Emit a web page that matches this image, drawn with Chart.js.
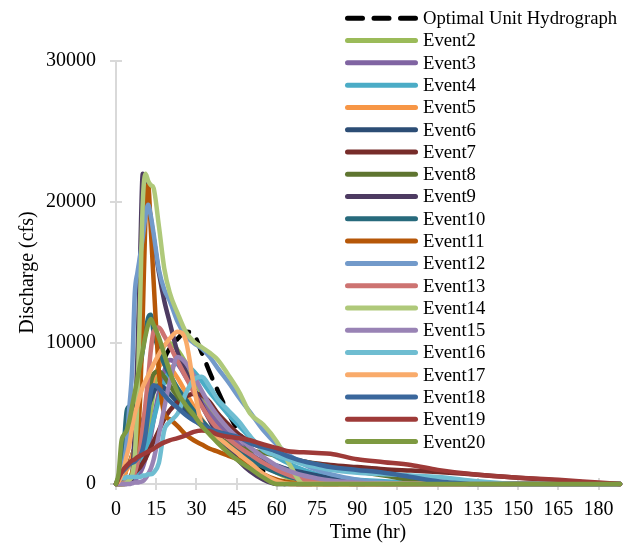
<!DOCTYPE html>
<html>
<head>
<meta charset="utf-8">
<script src="https://cdn.jsdelivr.net/npm/chart.js@4.4.1/dist/chart.umd.min.js"></script>
<style>
  html, body { margin: 0; padding: 0; background: #fff; }
  #wrap { width: 630px; height: 546px; }
</style>
</head>
<body>
<div id="wrap"><canvas id="chart" width="630" height="546"></canvas></div>
<script>
// time grid (hr) shared by every series
const hours = [0, 1, 2, 3, 4, 5, 6, 7, 8, 9, 10, 11, 12, 13, 14,
  16, 18, 20, 23, 26, 29, 32, 35, 38,
  42, 46, 50, 55, 60, 65, 70, 75, 80,
  90, 100, 110, 120, 135, 150, 165, 180, 188];

const xTicks = [0, 15, 30, 45, 60, 75, 90, 105, 120, 135, 150, 165, 180];
const yTicks = [0, 10000, 20000, 30000];

const seriesNames = ["Optimal Unit Hydrograph", "Event2", "Event3", "Event4", "Event5",
  "Event6", "Event7", "Event8", "Event9", "Event10", "Event11", "Event12", "Event13",
  "Event14", "Event15", "Event16", "Event17", "Event18", "Event19", "Event20"];

// discharge (cfs) at each entry of hours
const optimal = [0, 100, 300, 600, 1000, 1500, 2000, 2600, 3200, 3900, 4600, 5200, 5800, 6400, 7000,
  8000, 8900, 9600, 10300, 10800, 10600, 9300, 7900, 6600,
  5000, 3600, 2300, 900, 100, 0, 0, 0, 0,
  0, 0, 0, 0, 0, 0, 0, 0, 0];
const event2 = [0, 0, 0, 50, 100, 200, 300, 500, 800, 1300, 2000, 2800, 4000, 5200, 6500,
  8500, 9800, 10000, 9500, 8600, 7500, 6400, 5400, 4500,
  3600, 2800, 2100, 1400, 800, 400, 100, 0, 0,
  0, 0, 0, 0, 0, 0, 0, 0, 0];
const event3 = [0, 0, 0, 0, 50, 100, 100, 200, 500, 800, 1200, 1800, 2500, 3400, 4500,
  6500, 8000, 8800, 8500, 7600, 6700, 5800, 5000, 4300,
  3500, 2800, 2200, 1500, 900, 500, 250, 100, 50,
  0, 0, 0, 0, 0, 0, 0, 0, 0];
const event4 = [0, 0, 0, 100, 200, 300, 400, 600, 900, 1300, 1800, 2400, 3000, 3700, 4500,
  6000, 7200, 8000, 8600, 8500, 8000, 7300, 6500, 5800,
  4900, 4100, 3300, 2500, 1900, 1400, 1000, 700, 500,
  300, 200, 100, 0, 0, 0, 0, 0, 0];
const event5 = [0, 100, 300, 600, 1000, 1400, 2000, 2600, 3200, 3800, 4500, 5200, 6000, 6800, 7500,
  8300, 8600, 8300, 7500, 6500, 5500, 4600, 3800, 3100,
  2400, 1800, 1200, 600, 200, 0, 0, 0, 0,
  0, 0, 0, 0, 0, 0, 0, 0, 0];
const event6 = [0, 300, 1000, 2500, 3000, 3300, 3500, 3700, 4000, 4200, 4500, 5000, 5500, 6000, 6500,
  7000, 6800, 6400, 5800, 5200, 4600, 4100, 3600, 3200,
  2800, 2400, 2000, 1600, 1300, 1000, 800, 600, 400,
  200, 0, 0, 0, 0, 0, 0, 0, 0];
const event7 = [0, 50, 100, 200, 300, 400, 600, 800, 1000, 1200, 1500, 1800, 2200, 2600, 3000,
  3800, 4600, 5200, 5800, 6200, 6400, 6300, 5800, 5000,
  4200, 3500, 3000, 2500, 2100, 1800, 1600, 1450, 1350,
  1200, 1050, 950, 850, 650, 450, 250, 50, 0];
const event8 = [0, 0, 50, 100, 200, 300, 500, 900, 1500, 2400, 3500, 4700, 6000, 7200, 7800,
  8000, 7600, 7000, 6200, 5500, 4800, 4200, 3700, 3300,
  2900, 2600, 2400, 2200, 2000, 1800, 1600, 1400, 1200,
  900, 600, 300, 100, 0, 0, 0, 0, 0];
const event9 = [0, 0, 0, 0, 0, 100, 500, 4000, 9000, 16000, 22000, 21500, 20000, 18800, 17500,
  15000, 13000, 11500, 9300, 8000, 6800, 5600, 4500, 3500,
  2500, 1600, 900, 300, 0, 0, 0, 0, 0,
  0, 0, 0, 0, 0, 0, 0, 0, 0];
const event10 = [0, 300, 1500, 3000, 5200, 5500, 5700, 6200, 7000, 8200, 9500, 10800, 11800, 12000, 10800,
  9500, 8500, 7800, 6800, 6000, 5200, 4500, 3900, 3300,
  2700, 2200, 1700, 1200, 800, 500, 300, 200, 100,
  0, 0, 0, 0, 0, 0, 0, 0, 0];
const event11 = [0, 0, 0, 0, 200, 400, 800, 1500, 3000, 6000, 12000, 19000, 21200, 18000, 14500,
  8000, 5000, 4600, 4100, 3500, 3100, 2800, 2500, 2300,
  2000, 1700, 1300, 700, 300, 100, 0, 0, 0,
  0, 0, 0, 0, 0, 0, 0, 0, 0];
const event12 = [0, 200, 500, 1500, 3000, 5500, 8000, 13500, 15000, 16200, 17500, 19000, 19800, 19000, 17800,
  15200, 13800, 13000, 11500, 10500, 10000, 9600, 9000, 8200,
  7200, 6100, 5100, 3800, 2800, 2000, 1400, 1000, 700,
  300, 100, 0, 0, 0, 0, 0, 0, 0];
const event13 = [0, 0, 0, 100, 200, 300, 500, 800, 1500, 2500, 4000, 5700, 7500, 9500, 10800,
  11100, 10500, 9800, 8700, 7600, 6500, 5500, 4600, 3900,
  3200, 2600, 2100, 1500, 1000, 600, 300, 200, 100,
  0, 0, 0, 0, 0, 0, 0, 0, 0];
const event14 = [0, 0, 0, 0, 100, 300, 600, 2000, 6000, 13000, 20000, 22000, 21500, 21200, 21000,
  18300, 15300, 13600, 12100, 10800, 10100, 9700, 9300, 8800,
  7700, 6500, 5000, 4200, 3000, 1300, 0, 0, 0,
  0, 0, 0, 0, 0, 0, 0, 0, 0];
const event15 = [0, 0, 0, 0, 0, 0, 50, 100, 100, 150, 200, 400, 700, 1100, 1700,
  3500, 5400, 7200, 9000, 8600, 7700, 6600, 5600, 4800,
  3900, 3200, 2600, 1900, 1300, 900, 600, 400, 250,
  100, 0, 0, 0, 0, 0, 0, 0, 0];
const event16 = [0, 300, 400, 400, 500, 500, 500, 500, 500, 500, 600, 600, 700, 700, 800,
  1500, 3800, 4400, 5000, 6400, 7400, 7600, 6900, 6000,
  5200, 4400, 3400, 2400, 2000, 1700, 1400, 1200, 1000,
  800, 700, 600, 500, 200, 0, 0, 0, 0];
const event17 = [0, 200, 600, 1200, 2000, 2800, 4000, 5000, 5600, 6300, 6900, 7300, 7700, 8100, 8500,
  9200, 9800, 10300, 10800, 10200, 7000, 4200, 3700, 3300,
  2700, 2100, 1500, 700, 200, 0, 0, 0, 0,
  0, 0, 0, 0, 0, 0, 0, 0, 0];
const event18 = [0, 500, 800, 1000, 1200, 1400, 1500, 1600, 1800, 2000, 2500, 3500, 5000, 6500, 7000,
  6800, 6300, 5900, 5400, 4900, 4500, 4200, 3900, 3700,
  3500, 3300, 2900, 2600, 2300, 1900, 1600, 1400, 1200,
  1000, 800, 500, 200, 0, 0, 0, 0, 0];
const event19 = [0, 400, 800, 1100, 1300, 1500, 1650, 1750, 1900, 2000, 2100, 2200, 2300, 2400, 2500,
  2750, 2950, 3100, 3250, 3450, 3700, 3800, 3750, 3500,
  3350, 3250, 3100, 2800, 2550, 2300, 2250, 2200, 2150,
  1750, 1550, 1350, 1000, 650, 450, 300, 100, 0];
const event20 = [0, 800, 3000, 3500, 3800, 4500, 5500, 6500, 7500, 8500, 9500, 10500, 11300, 11700, 11300,
  10400, 9200, 8000, 6500, 5600, 4900, 4100, 3500, 2900,
  2200, 1600, 1100, 450, 0, 0, 0, 0, 0,
  0, 0, 0, 0, 0, 0, 0, 0, 0];

const seriesValues = [optimal, event2, event3, event4, event5, event6, event7, event8, event9,
  event10, event11, event12, event13, event14, event15, event16, event17, event18, event19, event20];

const seriesColors = ["#000000", "#9BBB59", "#8064A2", "#4BACC6", "#F79646", "#2C4D75",
  "#772C2A", "#5F7530", "#4D3B62", "#276A7C", "#B65708", "#729ACA", "#CD7371", "#AFC97A",
  "#9983B5", "#6FBDD1", "#F9AB6B", "#3A679C", "#9E3A38", "#7E9A41"];

const serif = "'Liberation Serif', 'Times New Roman', serif";
const axisGrey = "#d9d9d9";
const dash = [15, 11.5];

Chart.defaults.font.family = serif;
Chart.defaults.font.size = 20;
Chart.defaults.color = "#000";

const datasets = seriesNames.map((name, i) => ({
  label: name,
  data: seriesValues[i].map((v, k) => ({ x: hours[k], y: v })),
  borderColor: seriesColors[i],
  borderWidth: 4.5,
  borderDash: i === 0 ? dash : [],
  borderCapStyle: "round",
  borderJoinStyle: "round",
  cubicInterpolationMode: "monotone",
  pointRadius: 0,
  fill: false,
  clip: false,
  // later events sit on top, like the spreadsheet
  order: seriesNames.length - i
}));

// Excel-style cross tick marks on both axes
const crossTicks = {
  id: "crossTicks",
  beforeDatasetsDraw(chart) {
    const { ctx, scales } = chart;
    ctx.save();
    ctx.strokeStyle = axisGrey;
    ctx.lineWidth = 2;
    scales.x.ticks.forEach(t => {
      const px = Math.round(scales.x.getPixelForValue(t.value));
      const py = scales.y.bottom;
      ctx.beginPath();
      ctx.moveTo(px, py - 6);
      ctx.lineTo(px, py + 6);
      ctx.stroke();
    });
    scales.y.ticks.forEach(t => {
      const py = Math.round(scales.y.getPixelForValue(t.value));
      const px = scales.x.left;
      ctx.beginPath();
      ctx.moveTo(px - 6, py);
      ctx.lineTo(px + 6, py);
      ctx.stroke();
    });
    ctx.restore();
  }
};

// legend overlapping the top right of the plot
const legendBox = {
  id: "legendBox",
  afterDraw(chart) {
    const ctx = chart.ctx;
    ctx.save();
    ctx.font = "18.7px " + serif;
    ctx.textBaseline = "middle";
    chart.data.datasets.forEach((ds, i) => {
      const y = 18.3 + i * 22.28;
      ctx.strokeStyle = ds.borderColor;
      ctx.lineWidth = 5;
      ctx.lineCap = "round";
      ctx.setLineDash(ds.borderDash);
      ctx.beginPath();
      ctx.moveTo(347.5, y);
      ctx.lineTo(415.5, y);
      ctx.stroke();
      ctx.setLineDash([]);
      ctx.fillStyle = "#000";
      ctx.fillText(ds.label, 423, y + 1);
    });
    ctx.restore();
  }
};

new Chart(document.getElementById("chart"), {
  type: "line",
  data: { datasets },
  options: {
    responsive: false,
    animation: false,
    devicePixelRatio: 1,
    layout: { padding: { top: 61, right: 10, left: 0, bottom: 0 } },
    plugins: {
      legend: { display: false },
      tooltip: { enabled: false }
    },
    scales: {
      x: {
        type: "linear",
        min: 0,
        max: 188,
        afterBuildTicks: s => { s.ticks = xTicks.map(v => ({ value: v })); },
        afterFit: s => { s.height = 62; },
        grid: { display: true, drawOnChartArea: false, drawTicks: false },
        border: { color: axisGrey, width: 2 },
        ticks: { padding: 14, maxRotation: 0, autoSkip: false, callback: v => String(v) },
        title: { display: true, text: "Time (hr)", padding: { top: 0, bottom: 1 } }
      },
      y: {
        min: 0,
        max: 30000,
        afterBuildTicks: s => { s.ticks = yTicks.map(v => ({ value: v })); },
        afterFit: s => { s.width = 116; },
        grid: { display: true, drawOnChartArea: false, drawTicks: false },
        border: { color: axisGrey, width: 2 },
        ticks: { padding: 20, callback: v => String(v) },
        title: { display: true, text: "Discharge (cfs)", padding: { top: 16, bottom: 0 } }
      }
    }
  },
  plugins: [crossTicks, legendBox]
});
</script>
</body>
</html>
